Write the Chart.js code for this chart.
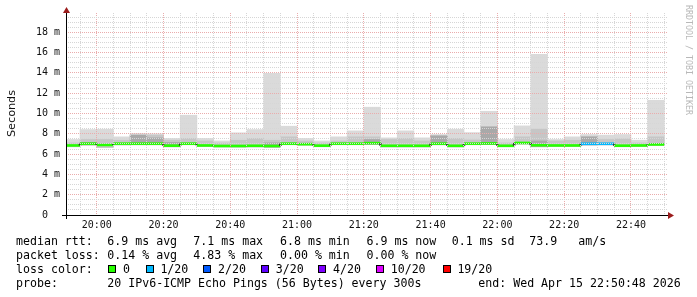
<!DOCTYPE html>
<html>
<head>
<meta charset="utf-8">
<script src="https://cdn.jsdelivr.net/npm/chart.js@4.4.1/dist/chart.umd.min.js"></script>
<style>
  html, body { margin: 0; padding: 0; background: #fff; }
  #wrap { position: relative; width: 697px; height: 297px; overflow: hidden; background: #fff; }
  #plot { position: absolute; left: 0; top: 0; width: 697px; height: 235px; }
  .t { position: absolute; font-family: 'DejaVu Sans Mono', monospace; font-size: 11.6px; line-height: 14px; color: #000; white-space: pre; }
  .box { position: absolute; width: 8px; height: 8px; box-sizing: border-box; border: 1px solid #000; }
  #ylabel { position: absolute; left: 5px; top: 90px; writing-mode: vertical-rl; transform: rotate(180deg);
            font-family: 'DejaVu Sans', sans-serif; font-weight: normal; font-size: 11.2px; line-height: 13px;
            color: #111; white-space: nowrap; }
  #mark { position: absolute; left: 684px; top: 5px; writing-mode: vertical-rl;
          font-family: 'DejaVu Sans Mono', monospace; font-size: 8.3px; line-height: 9px; color: #b8b8b8; white-space: nowrap; }
</style>
</head>
<body>
<div id="wrap">
  <div id="plot"><canvas id="pingChart"></canvas></div>
  <div id="ylabel">Seconds</div>
  <div id="mark">RRDTOOL / TOBI OETIKER</div>
  <div id="legend"></div>
</div>
<script>
// 5 minute bins (start time of each bin)
const binStart = ['19:50','19:55','20:00','20:05','20:10','20:15','20:20','20:25','20:30','20:35','20:40','20:45',
                  '20:50','20:55','21:00','21:05','21:10','21:15','21:20','21:25','21:30','21:35','21:40','21:45',
                  '21:50','21:55','22:00','22:05','22:10','22:15','22:20','22:25','22:30','22:35','22:40','22:45'];

// smoke: max ping, upper band, dark band near median, median, min ping (ms)
const rttMax = [7.44,8.42,8.45,7.70,8.03,8.00,7.54,9.83,7.54,7.30,8.10,8.42,13.96,8.75,7.54,7.30,7.70,8.29,
                10.62,7.60,8.29,7.60,7.93,8.45,8.12,10.22,7.44,8.78,15.83,7.44,7.70,7.93,7.87,7.93,7.37,11.30];
const rttUpper = [7.10,7.44,7.44,7.37,7.87,7.87,7.37,7.54,7.30,7.10,7.37,7.54,7.37,7.70,7.30,7.10,7.30,7.70,
                  7.70,7.44,7.54,7.30,7.80,7.54,7.40,8.68,7.10,7.70,8.46,7.30,7.37,7.70,7.44,7.50,7.10,7.70];
const rttDark = [null,7.15,null,null,7.87,7.60,7.15,null,null,null,null,null,7.11,null,null,null,null,null,
                 7.44,null,null,null,7.80,null,null,8.68,null,null,7.30,null,null,7.70,null,null,null,null];
const rttMedian = [6.85,7.03,6.90,7.03,7.03,7.03,6.83,7.03,6.85,6.80,6.80,6.82,6.80,7.03,6.98,6.83,7.03,7.03,
                   7.08,6.82,6.82,6.82,7.03,6.82,7.03,7.05,6.82,7.10,6.87,6.85,6.85,7.02,7.02,6.83,6.85,6.95];
const rttMin = [6.72,6.90,6.65,6.90,6.92,6.92,6.72,6.92,6.74,6.70,6.68,6.70,6.68,6.92,6.88,6.72,6.92,6.92,
                6.96,6.70,6.70,6.70,6.92,6.70,6.92,6.94,6.72,6.98,6.72,6.74,6.74,6.90,6.90,6.72,6.74,6.84];
// lost pings out of 20 per bin
const lossCount = [0,0,0,0,0,0,0,0,0,0,0,0,0,0,0,0,0,0,0,0,0,0,0,0,0,0,0,0,0,0,0,1,1,0,0,0];

const lossSteps = [0, 1, 2, 3, 4, 10, 19];
const lossLabels = ['0', '1/20', '2/20', '3/20', '4/20', '10/20', '19/20'];
const lossColors = ['#26ff00', '#00b8ff', '#0059ff', '#5e00ff', '#7e00ff', '#dd00ff', '#ff0000'];

const yTicks = [0,0.5,1,1.5,2,2.5,3,3.5,4,4.5,5,5.5,6,6.5,7,7.5,8,8.5,9,9.5,10,10.5,11,11.5,12,12.5,13,13.5,
                14,14.5,15,15.5,16,16.5,17,17.5,18,18.5,19,19.5];
const xTicks = ['19:55','20:00','20:05','20:10','20:15','20:20','20:25','20:30','20:35','20:40','20:45','20:50',
                '20:55','21:00','21:05','21:10','21:15','21:20','21:25','21:30','21:35','21:40','21:45','21:50',
                '21:55','22:00','22:05','22:10','22:15','22:20','22:25','22:30','22:35','22:40','22:45','22:50'];

const statLines = [
  ['median rtt:', '6.9 ms avg', '7.1 ms max', '6.8 ms min', '6.9 ms now', '0.1 ms sd', '73.9', 'am/s'],
  ['packet loss:', '0.14 % avg', '4.83 % max', '0.00 % min', '0.00 % now']
];
const probeText = ['probe:', '20 IPv6-ICMP Echo Pings (56 Bytes) every 300s', 'end: Wed Apr 15 22:50:48 2026'];

function toMin(s) { const p = s.split(':'); return (+p[0]) * 60 + (+p[1]); }
function fmt(m) { const h = Math.floor(m / 60), mm = m % 60; return h + ':' + String(mm).padStart(2, '0'); }
function lossColor(n) {
  let c = lossColors[0];
  lossSteps.forEach((s, i) => { if (n >= s) c = lossColors[i]; });
  return c;
}

const centers = binStart.map(s => toMin(s) + 2.5);
const band = (lo, hi) => centers.map((x, i) => ({ x: x, y: hi[i] == null ? null : [lo[i], hi[i]] }));

const medianPts = [];
binStart.forEach((s, i) => {
  medianPts.push({ x: toMin(s), y: rttMedian[i] });
  medianPts.push({ x: toMin(s) + 5, y: rttMedian[i] });
});

const majorGrid = '#eaacac';
const minorGrid = '#d6d6d6';

const axisArrows = {
  id: 'axisArrows',
  afterDraw(chart) {
    const { ctx, chartArea: a } = chart;
    ctx.save();
    ctx.strokeStyle = '#000';
    ctx.lineWidth = 1;
    ctx.beginPath();
    ctx.moveTo(a.left - 4, a.bottom + 0.5);
    ctx.lineTo(a.right + 1, a.bottom + 0.5);
    ctx.moveTo(a.left + 0.5, a.bottom + 4);
    ctx.lineTo(a.left + 0.5, a.top - 1);
    ctx.stroke();
    ctx.fillStyle = '#9b1c1c';
    ctx.beginPath();
    ctx.moveTo(a.left + 0.5, a.top - 6);
    ctx.lineTo(a.left - 3, a.top);
    ctx.lineTo(a.left + 4, a.top);
    ctx.closePath();
    ctx.fill();
    ctx.beginPath();
    ctx.moveTo(a.right + 7, a.bottom + 0.5);
    ctx.lineTo(a.right + 1, a.bottom - 3);
    ctx.lineTo(a.right + 1, a.bottom + 4);
    ctx.closePath();
    ctx.fill();
    ctx.restore();
  }
};

const tickFont = { family: "'DejaVu Sans Mono', monospace", size: 10 };

const ctx = document.getElementById('pingChart').getContext('2d');
const pingChart = new Chart(ctx, {
  type: 'bar',
  data: {
    datasets: [
      {
        type: 'line',
        label: 'median',
        data: medianPts,
        order: 0,
        borderWidth: 2.6,
        borderCapStyle: 'butt',
        pointRadius: 0,
        tension: 0,
        segment: {
          borderColor: c => c.p0.parsed.x === c.p1.parsed.x ? '#333' : lossColor(lossCount[Math.floor(c.p0DataIndex / 2)])
        }
      },
      { label: 'dark', data: band(rttMin, rttDark), backgroundColor: '#a9a9a9', order: 1 },
      { label: 'upper', data: band(rttMin, rttUpper), backgroundColor: '#c6c6c6', order: 2 },
      { label: 'range', data: band(rttMin, rttMax), backgroundColor: '#dadada', order: 3 }
    ]
  },
  options: {
    responsive: true,
    maintainAspectRatio: false,
    animation: false,
    events: [],
    datasets: {
      bar: { grouped: false, barPercentage: 1, categoryPercentage: 1, borderWidth: 0 }
    },
    layout: { padding: { left: 0, right: 30, top: 13, bottom: 0 } },
    plugins: { legend: { display: false }, tooltip: { enabled: false } },
    scales: {
      x: {
        type: 'linear',
        min: toMin('19:50') + 0.8,
        max: toMin('22:50') + 0.8,
        offset: false,
        afterBuildTicks: s => { s.ticks = xTicks.map(t => ({ value: toMin(t) })); },
        afterFit: s => { s.height = 20; },
        border: { display: false, dash: [1, 1] },
        grid: {
          offset: false,
          z: 1,
          drawTicks: false,
          color: c => (c.tick && c.tick.value % 20 === 0) ? majorGrid : minorGrid
        },
        ticks: {
          autoSkip: false,
          maxRotation: 0,
          padding: 4,
          color: '#111',
          font: tickFont,
          callback: v => v % 20 === 0 ? fmt(v) : ''
        }
      },
      y: {
        min: 0,
        max: 19.9,
        afterBuildTicks: s => { s.ticks = yTicks.map(v => ({ value: v })); },
        afterFit: s => { s.width = 66; },
        border: { display: false, dash: [1, 1] },
        grid: {
          z: 1,
          drawTicks: false,
          color: c => {
            const v = c.tick ? c.tick.value : 0;
            if (v === 0) return 'rgba(0,0,0,0)';
            return v % 2 === 0 ? majorGrid : minorGrid;
          }
        },
        ticks: {
          autoSkip: false,
          padding: 6,
          color: '#111',
          font: tickFont,
          callback: v => v % 2 !== 0 ? '' : (v === 0 ? '0  ' : v + ' m')
        }
      }
    }
  },
  plugins: [axisArrows]
});

// text legend below the graph
const legend = document.getElementById('legend');
function addText(str, x, y) {
  const d = document.createElement('div');
  d.className = 't';
  d.style.left = x + 'px';
  d.style.top = y + 'px';
  d.textContent = str;
  legend.appendChild(d);
}
const colX = [16, 107.3, 193.3, 280, 366.5, 451.7, 529.3, 578.3];
statLines.forEach((line, r) => {
  line.forEach((s, i) => addText(s, colX[i], 234 + r * 14));
});
addText('loss color:', 16, 262);
const boxX = [108.3, 145.7, 203.3, 261, 318.3, 376, 442.7];
lossLabels.forEach((lab, i) => {
  const b = document.createElement('div');
  b.className = 'box';
  b.style.left = boxX[i] + 'px';
  b.style.top = '265px';
  b.style.background = lossColors[i];
  legend.appendChild(b);
  addText(lab, boxX[i] + 14.7, 262);
});
addText(probeText[0], 16, 276);
addText(probeText[1], 107.3, 276);
addText(probeText[2], 478.3, 276);
</script>
</body>
</html>
